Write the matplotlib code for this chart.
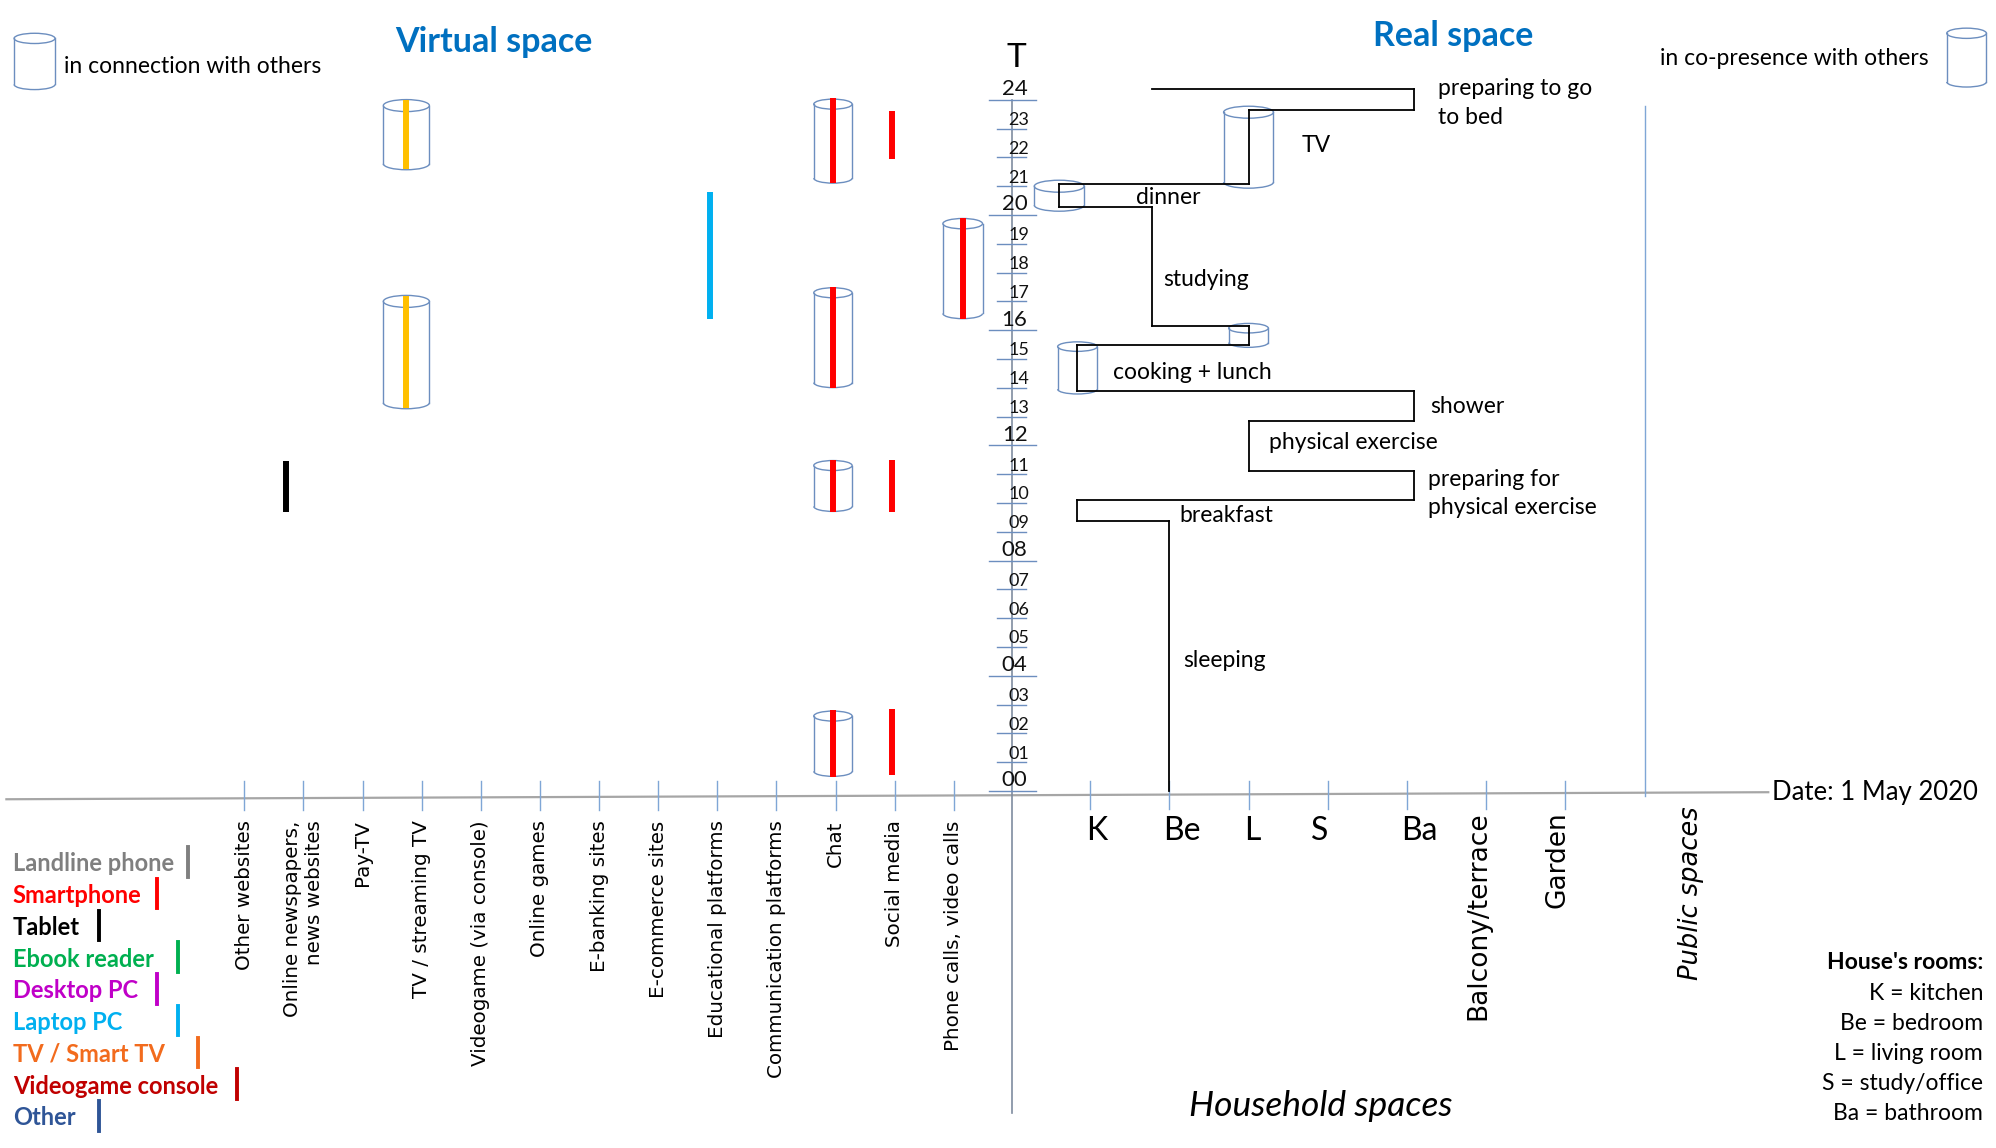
import matplotlib.pyplot as plt
from matplotlib.patches import Ellipse, Arc

plt.rcParams["font.family"] = ["Lato", "DejaVu Sans"]

# ---------------- data ----------------
HOURS = list(range(25))

VIRTUAL_CATEGORIES = [
    "Other websites", "Online newspapers,\nnews websites", "Pay-TV",
    "TV / streaming TV", "Videogame (via console)", "Online games",
    "E-banking sites", "E-commerce sites", "Educational platforms",
    "Communication platforms", "Chat", "Social media",
    "Phone calls, video calls",
]
ROOMS = ["K", "Be", "L", "S", "Ba"]
OTHER_SPACES = ["Balcony/terrace", "Garden"]
ROOM_NAMES = ["K = kitchen", "Be = bedroom", "L = living room",
              "S = study/office", "Ba = bathroom"]

DEVICES = ["Landline phone", "Smartphone", "Tablet", "Ebook reader",
           "Desktop PC", "Laptop PC", "TV / Smart TV", "Videogame console",
           "Other"]
DEVICE_COLORS = ["#7F7F7F", "#FF0000", "#000000", "#00B050", "#C000C8",
                 "#00B0F0", "#F26B1D", "#C00000", "#2F5597"]

# digital activities (virtual space)
V_CAT = ["Online newspapers,\nnews websites", "TV / streaming TV",
         "TV / streaming TV", "Educational platforms", "Chat", "Chat",
         "Chat", "Chat", "Social media", "Social media", "Social media",
         "Phone calls, video calls"]
V_COLOR = ["#000000", "#FFC000", "#FFC000", "#00B0F0", "#FF0000", "#FF0000",
           "#FF0000", "#FF0000", "#FF0000", "#FF0000", "#FF0000", "#FF0000"]
V_START = [9.67, 21.6, 13.3, 16.4, 21.1, 14.0, 9.7, 0.5, 21.95, 9.7, 0.55, 16.4]
V_END = [11.46, 24.0, 17.2, 20.8, 24.05, 17.5, 11.5, 2.8, 23.6, 11.5, 2.85, 19.9]
V_WITH_OTHERS = [False, True, True, False, True, True, True, True,
                 False, False, False, True]

# movements in the house (real space); position in room units (K=1, Be=2, ...)
STAY_LABEL = ["sleeping", "breakfast", "preparing for\nphysical exercise",
              "physical exercise", "shower", "cooking + lunch", "",
              "studying", "dinner", "TV", "preparing to go\nto bed", ""]
STAY_POS = [2.0, 0.84, 5.09, 3.0, 5.09, 0.84, 3.0, 1.78, 0.61, 3.0, 5.09, 1.78]
STAY_START = [0, 9.37, 10.12, 11.12, 12.85, 13.88, 15.5, 16.14, 20.27, 21.07,
              23.64, 24.36]
STAY_END = [9.37, 10.12, 11.12, 12.85, 13.88, 15.5, 16.14, 20.27, 21.07, 23.64,
            24.36, 24.36]
STAY_WITH_OTHERS = [False, False, False, False, False, True, True, False,
                    True, True, False, False]

# ---------------- layout ----------------
W, H = 1560, 897            # layout units (figure is 1996 x 1148 px)
VX0, VDX = 191, 46.2        # virtual category axis
RX0, RDX = 852, 61.9        # household rooms axis
TX = 791                    # time axis
Y24, PER_H = 78, 22.5       # y of 24h tick, layout units per hour

V_NUDGE = [-14, -12, -12, -6, -2, -2, -2, -2, -2, -2, -2, 7]
V_CYL_W = [0, 36, 36, 0, 30, 30, 30, 30, 0, 0, 0, 31]
R_CYL_W = {5: 31, 6: 31, 8: 39, 9: 39}
LABEL_XY = [(925, 516), (922, 403), (1116, 385.5), (992, 346), (1118, 318),
            (870, 291), None, (909, 218), (888, 154), (1017, 114), (1124, 80.5)]
LEGEND_BAR_X = [147, 123, 77, 139, 123, 139, 155, 185, 77]

BLUE_LINE = "#6C8EBF"
TICK_BLUE = "#7FA6D6"
TXT = 16.5


def vx(i):
    return VX0 + VDX * i


def rx(d):
    return RX0 + RDX * (d - 1)


def hy(y):
    # layout y -> hours
    return 24 - (y - Y24) / PER_H


def draw_cylinder(ax, xc, w, y_bot, y_top, eh, lw=1.0, z=2):
    ax.add_patch(Ellipse((xc, y_top), w, eh, fill=False, ec=BLUE_LINE, lw=lw, zorder=z))
    t1, t2 = (180, 360) if y_top > y_bot else (0, 180)
    ax.add_patch(Arc((xc, y_bot), w, eh, theta1=t1, theta2=t2, ec=BLUE_LINE, lw=lw, zorder=z))
    for s in (-1, 1):
        ax.plot([xc + s * w / 2] * 2, [y_bot, y_top], color=BLUE_LINE, lw=lw, zorder=z)


fig = plt.figure(figsize=(19.96, 11.48), dpi=100)
ax = fig.add_axes([0, 0, 1, 1])
ax.set_xlim(0, W)
ax.set_ylim(hy(H), hy(0))
ax.axis("off")
ov = fig.add_axes([0, 0, 1, 1], zorder=-1)
ov.set_xlim(0, W)
ov.set_ylim(H, 0)
ov.axis("off")

# time axis
ax.plot([TX, TX], [24, hy(870)], color="#7F8CA0", lw=1.2, zorder=1)
for h in HOURS:
    major = h % 4 == 0
    x0, x1 = (773, 810) if major else (779, 802)
    ax.plot([x0, x1], [h, h], color=BLUE_LINE, lw=1.0, zorder=1)
    ax.text(793 if major else 796, h + 0.02, f"{h:02d}", ha="center", va="bottom",
            fontsize=16 if major else 13, color="#111111")
ov.text(794, 45, "T", ha="center", va="center", fontsize=24)

# horizontal base line
ov.plot([5, 1382], [624.5, 619], color="#A6A6A6", lw=1.6)
ov.text(1385, 619, "Date: 1 May 2020", ha="left", va="center", fontsize=18.5)

# virtual category ticks and labels
for i, cat in enumerate(VIRTUAL_CATEGORIES):
    ax.plot([vx(i)] * 2, [hy(610), hy(633)], color=TICK_BLUE, lw=1.0)
    ov.text(vx(i), 641, cat, rotation=90, ha="center", va="top",
            multialignment="right", fontsize=14.3, family="DejaVu Sans")

# household space ticks and labels
for k in range(len(ROOMS) + len(OTHER_SPACES)):
    ax.plot([rx(k + 1)] * 2, [hy(610), hy(632)], color=TICK_BLUE, lw=1.0)
room_nudge = [5, 10, 3, -6, 10]
for k, r in enumerate(ROOMS):
    ov.text(rx(k + 1) + room_nudge[k], 649, r, ha="center", va="center", fontsize=23)
for k, s in enumerate(OTHER_SPACES):
    ov.text(rx(len(ROOMS) + k + 1) - 6, 634, s, rotation=90, ha="center", va="top",
            fontsize=19, family="DejaVu Sans")
pub_x = rx(len(ROOMS) + len(OTHER_SPACES) + 1)
ax.plot([pub_x, pub_x], [hy(83), hy(622)], color=TICK_BLUE, lw=1.0)
ov.text(pub_x + 36, 630, "Public spaces", rotation=90, ha="center", va="top",
        fontsize=18.5, family="DejaVu Sans", style="italic")
ov.text(1032, 864, "Household spaces", ha="center", va="center", fontsize=25.5,
        style="italic")

# virtual activities
for cat, col, s, e, oth, nud, cw in zip(V_CAT, V_COLOR, V_START, V_END,
                                        V_WITH_OTHERS, V_NUDGE, V_CYL_W):
    x = vx(VIRTUAL_CATEGORIES.index(cat)) + nud
    ax.plot([x, x], [s, e], color=col, lw=4.3, solid_capstyle="butt", zorder=3)
    if oth:
        draw_cylinder(ax, x, cw, s + 0.18, e - 0.2, cw * 0.26 / PER_H)

# real-space path
for i, (p, s, e) in enumerate(zip(STAY_POS, STAY_START, STAY_END)):
    x = rx(p)
    ax.plot([x, x], [s, e], color="black", lw=1.3, zorder=3)
    if i + 1 < len(STAY_POS):
        ax.plot([x, rx(STAY_POS[i + 1])], [e, e], color="black", lw=1.3, zorder=3)
    if STAY_WITH_OTHERS[i]:
        cw = R_CYL_W[i]
        draw_cylinder(ax, x, cw, s + 0.07, e - 0.07, cw * 0.24 / PER_H)
    if i < len(LABEL_XY) and LABEL_XY[i] is not None:
        ov.text(*LABEL_XY[i], STAY_LABEL[i], ha="left", va="center",
                fontsize=TXT, linespacing=1.45)

# titles and symbol legends
ov.text(386, 33, "Virtual space", ha="center", va="center", fontsize=24.5,
        fontweight="bold", color="#0070C0")
ov.text(1136, 28, "Real space", ha="center", va="center", fontsize=24.5,
        fontweight="bold", color="#0070C0")
draw_cylinder(ov, 27, 32, 66, 30, 8)
ov.text(50, 52, "in connection with others", ha="left", va="center", fontsize=TXT)
draw_cylinder(ov, 1537, 31, 64, 26, 8)
ov.text(1507, 46, "in co-presence with others", ha="right", va="center", fontsize=TXT)

# device legend
for k, (dev, col) in enumerate(zip(DEVICES, DEVICE_COLORS)):
    y = 675 + 24.8 * k
    ov.text(10, y, dev, ha="left", va="center", fontsize=17, fontweight="bold",
            color=col)
    ov.plot([LEGEND_BAR_X[k]] * 2, [y - 13, y + 10], color=col, lw=2.8)

# rooms legend
ov.text(1550, 752, "House's rooms:", ha="right", va="center", fontsize=TXT,
        fontweight="bold")
for k, name in enumerate(ROOM_NAMES):
    ov.text(1550, 776 + 23.6 * k, name, ha="right", va="center", fontsize=TXT)

fig.savefig("out.png", dpi=100)
